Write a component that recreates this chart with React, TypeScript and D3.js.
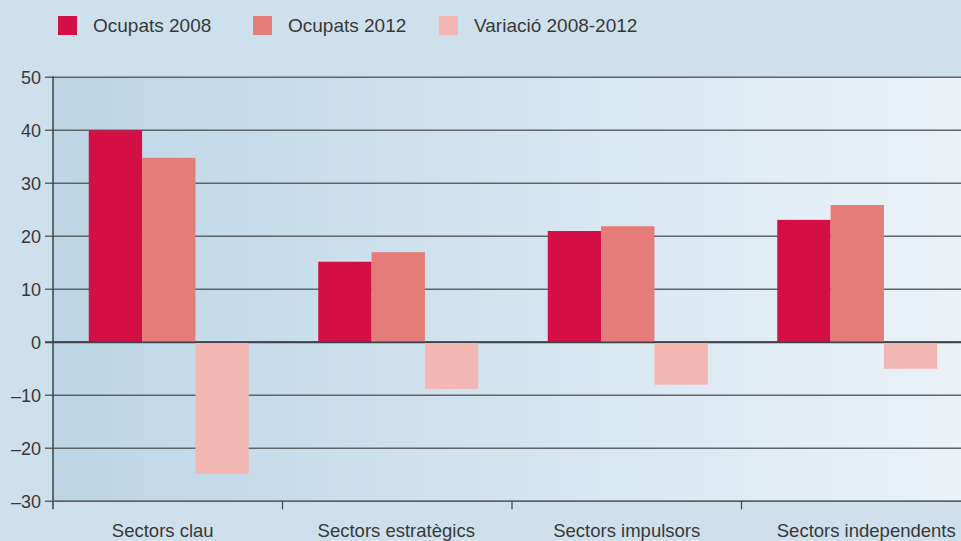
import React from "react";
import * as d3 from "d3";

const categories = ["Sectors clau", "Sectors estratègics", "Sectors impulsors", "Sectors independents"];
const seriesNames = ["Ocupats 2008", "Ocupats 2012", "Variació 2008-2012"];
const ocupats2008 = [40, 15.2, 21, 23.1];
const ocupats2012 = [34.8, 17, 21.9, 25.9];
const variacio = [-24.8, -8.8, -8, -5];
const yTicks = [50, 40, 30, 20, 10, 0, -10, -20, -30];
const colors = ["#d40f45", "#e47c7a", "#f2b7b3"];

const W = 961, H = 541;
const left = 53, right = 971, top = 77.3, bottom = 501.3;
const legendX = [58, 253, 439];
const labelDx = [-5, -1, 0, 10];

export default function App() {
  const series = [ocupats2008, ocupats2012, variacio];
  const x = d3.scaleBand<string>().domain(categories).range([left, right]).padding(0);
  const y = d3.scaleLinear().domain([-30, 50]).range([bottom, top]);
  const groupW = 160;
  const x1 = d3.scaleBand<number>().domain([0, 1, 2]).range([0, groupW]).padding(0);
  const font = "'Liberation Sans', Arial, Helvetica, sans-serif";
  const textColor = "#383838";
  const fmt = (v: number) => (v < 0 ? "\u2013" + Math.abs(v) : String(v));

  return (
    <svg width={W} height={H} style={{ position: "absolute", left: 0, top: 0 }} fontFamily={font}>
      <defs>
        <linearGradient id="bg" x1="0" x2="1" y1="0" y2="0">
          <stop offset="0" stopColor="#bcd6e6" />
          <stop offset="1" stopColor="#ebf2f8" />
        </linearGradient>
      </defs>
      <rect x={0} y={0} width={W} height={H} fill="#cee0ec" />
      <rect x={left} y={top} width={W - left} height={bottom - top} fill="url(#bg)" />

      {/* legend */}
      {seriesNames.map((s, i) => {
        const lx = legendX[i];
        return (
          <g key={s}>
            <rect x={lx} y={16} width={19} height={19} fill={colors[i]} />
            <text x={lx + 35} y={31.5} fontSize={19} fill={textColor}>{s}</text>
          </g>
        );
      })}

      {/* grid */}
      {yTicks.map((t) => (
        <g key={t}>
          <line x1={45} x2={W} y1={y(t)} y2={y(t)} stroke={t === 0 ? "#3c4248" : "#5f6469"} strokeWidth={t === 0 ? 2 : 1.5} />
          <text x={41} y={y(t) + 6.5} fontSize={18} textAnchor="end" fill={textColor}>{fmt(t)}</text>
        </g>
      ))}

      {/* bars */}
      {categories.map((c, ci) => {
        const gx = (x(c) as number) + (x.bandwidth() - groupW) / 2 + 1;
        return (
          <g key={c}>
            {series.map((vals, si) => {
              const v = vals[ci];
              const y0 = y(0), yv = y(v);
              return (
                <rect key={si} x={gx + (x1(si) as number)} width={x1.bandwidth()}
                  y={Math.min(y0, yv)} height={Math.abs(yv - y0)} fill={colors[si]} />
              );
            })}
          </g>
        );
      })}

      {/* zero line on top */}
      <line x1={left} x2={W} y1={y(0)} y2={y(0)} stroke="#3c4248" strokeWidth={1.5} />

      {/* axes */}
      <line x1={left} x2={left} y1={top - 1} y2={bottom + 8} stroke="#3c4248" strokeWidth={1.5} />
      <line x1={left} x2={W} y1={bottom} y2={bottom} stroke="#5f6469" strokeWidth={1.5} />
      {categories.slice(1).map((c) => (
        <line key={c} x1={x(c) as number} x2={x(c) as number} y1={bottom} y2={bottom + 8} stroke="#3c4248" strokeWidth={1.2} />
      ))}
      {categories.map((c, i) => (
        <text key={c} x={(x(c) as number) + x.bandwidth() / 2 + labelDx[i]} y={537} fontSize={18.5} textAnchor="middle" fill={textColor}>{c}</text>
      ))}
    </svg>
  );
}
